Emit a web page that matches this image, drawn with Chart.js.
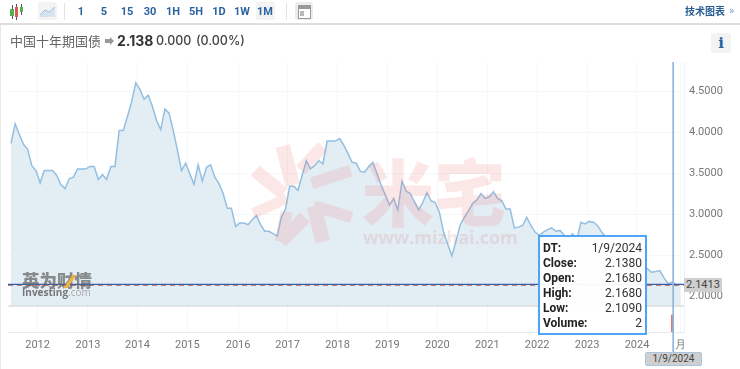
<!DOCTYPE html>
<html>
<head>
<meta charset="utf-8">
<script src="https://cdn.jsdelivr.net/npm/chart.js@4"></script>
<style>
html, body { margin: 0; padding: 0; background: #fff; }
body { width: 740px; height: 369px; overflow: hidden; position: relative; font-family: Roboto, "Noto Sans CJK SC", sans-serif; }
div, span, svg { position: absolute; }
canvas { position: absolute; left: 0; top: 0; }
.btn { top: 4px; width: 22px; text-align: center; font: 700 11px/15px Roboto, sans-serif; color: #2b639f; }
.sep { top: 3px; width: 1px; height: 17px; background: #e3e3e3; }
.box { background: #f3f3f3; border-radius: 2px; }
.tip-row { left: 3px; width: 99px; height: 15px; font: 12px/15px Roboto, sans-serif; color: #333; }
.tip-row b { position: absolute; left: 0; color: #222; font-weight: 700; }
.tip-row i { position: absolute; right: 0; font-style: normal; }
#overlay { left: 0; top: 0; width: 740px; height: 369px; pointer-events: none; }
</style>
</head>
<body>
<canvas id="bondChart" width="740" height="369"></canvas>

<div id="overlay">
  <!-- watermark -->
  <svg style="left:240px;top:130px" width="130" height="130" viewBox="0 0 390 390">
    <g fill="none" stroke="#ee7d7d" opacity="0.18">
      <polyline points="128,48 158,165" stroke-width="44"/>
      <polyline points="45,122 130,190" stroke-width="40"/>
      <polyline points="40,250 140,205" stroke-width="32"/>
      <polyline points="122,335 195,262" stroke-width="42"/>
      <polyline points="140,245 122,335" stroke-width="36"/>
      <polyline points="248,335 222,228" stroke-width="44"/>
      <polyline points="222,228 335,262" stroke-width="34"/>
      <polyline points="215,160 332,122" stroke-width="36"/>
      <polyline points="182,120 248,50" stroke-width="38"/>
    </g>
  </svg>
  <span style="left:362px;top:141px;font:900 72px/96px 'Noto Sans CJK SC';color:rgba(238,120,120,.18);white-space:nowrap">米宅</span>
  <span style="left:363px;top:225px;font:700 18px/24px 'Open Sans',sans-serif;color:rgba(205,120,120,.18);white-space:nowrap">www.mizhai.com</span>

  <!-- investing logo -->
  <span style="left:22px;top:270px;font:900 17.5px/20px 'Noto Sans CJK SC';color:rgba(95,95,95,.7);white-space:nowrap">英为财情</span>
  <div style="left:68px;top:275px;width:4px;height:13px;background:#f0b040;transform:skewX(-35deg)"></div>
  <span style="left:22px;top:286px;font:700 10px/12px 'Open Sans',sans-serif;color:#777;white-space:nowrap">Investing<span style="position:static;font-weight:400;color:#aaa">.com</span></span>

  <!-- mask for the cut off axis label -->
  <div style="left:684px;top:335px;width:10px;height:16px;background:#fff"></div>

  <!-- price and date flags -->
  <div style="left:684px;top:278px;width:38px;height:14px;background:#cfcfcf;font:11px/14px Roboto,sans-serif;color:#444;text-align:center">2.1413</div>
  <div style="left:645px;top:352px;width:55px;height:12px;background:#cfcfcf;border:1px solid #a9c4de;border-radius:2px;font:10px/12px Roboto,sans-serif;color:#444;text-align:center">1/9/2024</div>

  <!-- tooltip -->
  <div id="tip" style="left:538px;top:235px;width:105px;height:96px;border:2px solid #4ea5f7;background:rgba(255,255,255,.95)"></div>
</div>

<!-- toolbar -->
<div style="left:0;top:23px;width:740px;height:2px;background:#dedede"></div>
<div style="left:0;top:25px;width:1px;height:344px;background:#e8e8e8"></div>
<div style="left:12px;top:5px;width:1px;height:14px;background:#555"></div>
<div style="left:10px;top:9px;width:4px;height:7px;background:#55b055"></div>
<div style="left:16px;top:4px;width:1px;height:16px;background:#555"></div>
<div style="left:15px;top:7px;width:3px;height:10px;background:#dd5a50"></div>
<div style="left:21px;top:4px;width:1px;height:11px;background:#555"></div>
<div style="left:20px;top:7px;width:3px;height:5px;background:#55b055"></div>
<div class="box" style="left:38px;top:2px;width:19px;height:18px"></div>
<svg style="left:40px;top:6px" width="16" height="12" viewBox="0 0 16 12">
  <polygon points="0,9 5,4 9,6 15,1 15,11 0,11" fill="#d5e4f2"/>
  <polyline points="0,9 5,4 9,6 15,1" fill="none" stroke="#9fc2e2" stroke-width="1"/>
</svg>
<div class="sep" style="left:64px"></div>
<div class="box" style="left:256px;top:2px;width:19px;height:18px"></div>
<div id="buttons"></div>
<div class="sep" style="left:286px"></div>
<div class="box" style="left:295px;top:2px;width:18px;height:18px;background:#ececec"></div>
<div style="left:298px;top:5px;width:11px;height:12px;border:1px solid #999;background:#fff"></div>
<div style="left:299px;top:6px;width:11px;height:3px;background:#999"></div>
<div style="left:300px;top:11px;width:4px;height:5px;background:#bbb"></div>
<span style="left:685px;top:4px;font:700 10px/14px 'Noto Sans CJK SC';color:#2b5f94;white-space:nowrap">技术图表</span>
<span style="left:729px;top:4px;font:11px/14px Roboto,sans-serif;color:#7fa6cf">»</span>

<!-- title -->
<span style="left:10px;top:31px;font:13px/19px 'Noto Sans CJK SC';color:#666;white-space:nowrap">中国十年期国债</span>
<svg style="left:105px;top:37px" width="9" height="8" viewBox="0 0 9 8"><polygon points="0,2 5,2 5,0 9,4 5,8 5,6 0,6" fill="#999"/></svg>
<span style="left:117px;top:31px;font:700 14px/19px Inter,sans-serif;color:#333;white-space:nowrap">2.138</span>
<span style="left:156px;top:31px;font:500 12.5px/19px Inter,sans-serif;color:#444;white-space:nowrap">0.000</span>
<span style="left:196px;top:31px;font:500 12.5px/19px Inter,sans-serif;color:#444;white-space:nowrap">(0.00%)</span>
<div class="box" style="left:711px;top:33px;width:20px;height:20px;font:700 15px/20px 'DejaVu Serif',serif;color:#2b639f;text-align:center">i</div>

<script>
// monthly closes, Jul 2011 to Sep 2024
const closes = [
  3.86, 4.10, 3.97, 3.85, 3.79, 3.59, 3.53, 3.38, 3.53, 3.53, 3.53, 3.47,
  3.36, 3.31, 3.43, 3.45, 3.55, 3.55, 3.55, 3.58, 3.58, 3.42, 3.48, 3.42,
  3.58, 3.58, 4.02, 4.02, 4.19, 4.37, 4.60, 4.52, 4.40, 4.45, 4.31, 4.14,
  4.03, 4.28, 4.23, 4.02, 3.78, 3.53, 3.62, 3.49, 3.36, 3.60, 3.40, 3.57,
  3.60, 3.45, 3.37, 3.25, 3.07, 3.07, 2.85, 2.89, 2.89, 2.87, 2.93, 2.98,
  2.87, 2.79, 2.79, 2.76, 2.73, 2.96, 3.06, 3.34, 3.34, 3.29, 3.47, 3.65,
  3.55, 3.59, 3.65, 3.61, 3.89, 3.89, 3.89, 3.92, 3.84, 3.74, 3.63, 3.62,
  3.52, 3.51, 3.58, 3.63, 3.49, 3.35, 3.23, 3.11, 3.19, 3.05, 3.40, 3.28,
  3.25, 3.15, 3.05, 3.14, 3.26, 3.16, 3.14, 3.02, 2.78, 2.63, 2.49, 2.67,
  2.87, 2.96, 3.04, 3.13, 3.17, 3.25, 3.19, 3.21, 3.27, 3.19, 3.16, 3.06,
  3.06, 2.83, 2.84, 2.86, 2.96, 2.86, 2.78, 2.74, 2.78, 2.81, 2.83, 2.79,
  2.80, 2.74, 2.70, 2.76, 2.67, 2.90, 2.88, 2.91, 2.90, 2.86, 2.78, 2.72,
  2.68, 2.64, 2.62, 2.64, 2.58, 2.55, 2.50, 2.45, 2.38, 2.33, 2.29, 2.30,
  2.31, 2.22, 2.15, 2.17, 2.14, 2.14
];
const volumeMonths = [159];
const volumes = [2];

const yearLabels = ['2012', '2013', '2014', '2015', '2016', '2017', '2018', '2019', '2020', '2021', '2022', '2023', '2024', '月'];
const yearTickMonths = [6.4, 18.5, 30.4, 42.4, 54.6, 66.5, 78.5, 90.5, 102.5, 114.5, 126.5, 138.5, 150.5, 161];
const priceTicks = [2, 2.5, 3, 3.5, 4, 4.5];
const lastPrice = 2.1413;
const dashedPrice = 2.13;
const cursorMonth = 159.2;

const intervals = ['1', '5', '15', '30', '1H', '5H', '1D', '1W', '1M'];
const intervalLefts = [70, 93, 116, 139, 162, 185, 208, 231, 254];
const tipLabels = ['DT:', 'Close:', 'Open:', 'High:', 'Low:', 'Volume:'];
const tipValues = ['1/9/2024', '2.1380', '2.1680', '2.1680', '2.1090', '2'];

// toolbar and tooltip text
intervals.forEach((t, i) => {
    const b = document.createElement('div');
    b.className = 'btn';
    b.style.left = intervalLefts[i] + 'px';
    b.textContent = t;
    document.getElementById('buttons').appendChild(b);
});
tipLabels.forEach((t, i) => {
    const r = document.createElement('div');
    r.className = 'tip-row';
    r.style.top = (3.5 + i * 15) + 'px';
    r.innerHTML = '<b>' + t + '</b><i>' + tipValues[i] + '</i>';
    document.getElementById('tip').appendChild(r);
});

const X_MIN = -0.72, X_MAX = 161.8;
const PANEL_FLOOR = 1.878; // price panel stops here, volume panel below

const span = (y) => [{ x: X_MIN, y: y }, { x: X_MAX, y: y }];

// crosshair runs past the plot down to the date flag
const crosshair = {
    id: 'crosshair',
    afterDatasetsDraw(chart) {
        const c = chart.ctx;
        const px = chart.scales.x.getPixelForValue(cursorMonth);
        c.save();
        c.strokeStyle = '#8fb8dc';
        c.lineWidth = 1.7;
        c.beginPath();
        c.moveTo(px, chart.chartArea.top);
        c.lineTo(px, 352);
        c.stroke();
        c.restore();
    }
};

new Chart(document.getElementById('bondChart').getContext('2d'), {
    data: {
        datasets: [
            {
                type: 'line',
                data: closes.map((v, i) => ({ x: i, y: v })),
                borderColor: '#93bfe2',
                borderWidth: 1.5,
                backgroundColor: '#e3edf4',
                fill: { value: PANEL_FLOOR },
                pointRadius: 0,
                tension: 0,
                order: 3
            },
            {
                type: 'line',
                data: span(PANEL_FLOOR),
                borderColor: '#dcdcdc',
                borderWidth: 1.5,
                pointRadius: 0,
                order: 2
            },
            {
                type: 'line',
                data: span(lastPrice),
                borderColor: '#3a5fa8',
                borderWidth: 1.3,
                pointRadius: 0,
                order: 0
            },
            {
                type: 'line',
                data: span(dashedPrice),
                borderColor: '#c0625f',
                borderWidth: 1,
                borderDash: [5, 4],
                pointRadius: 0,
                order: 1
            },
            {
                type: 'bar',
                yAxisID: 'yVol',
                data: volumeMonths.map((m, i) => ({ x: m, y: volumes[i] })),
                backgroundColor: '#d9777a',
                barThickness: 2,
                order: 4
            }
        ]
    },
    options: {
        responsive: false,
        animation: false,
        events: [],
        layout: { padding: { left: 8, top: 62, right: 0, bottom: 0 } },
        plugins: { legend: { display: false }, tooltip: { enabled: false } },
        scales: {
            x: {
                type: 'linear',
                offset: false,
                min: X_MIN,
                max: X_MAX,
                afterBuildTicks: (s) => { s.ticks = yearTickMonths.map(v => ({ value: v })); },
                afterFit: (s) => { s.height = 37; },
                grid: { color: '#f5f7fa', drawTicks: false, offset: false },
                border: { color: '#e6ebf3' },
                ticks: {
                    autoSkip: false,
                    maxRotation: 0,
                    padding: 7,
                    color: '#777',
                    font: { family: 'Roboto', size: 11 },
                    callback: (v, i) => yearLabels[i]
                }
            },
            y: {
                position: 'right',
                min: 1.561,
                max: 4.854,
                afterBuildTicks: (s) => { s.ticks = priceTicks.map(v => ({ value: v })); },
                afterFit: (s) => { s.width = 56; },
                grid: { color: '#f5f7fa', drawTicks: false },
                border: { color: '#eef1f6' },
                ticks: {
                    padding: 5,
                    color: '#777',
                    font: { family: 'Roboto', size: 11 },
                    callback: (v) => v.toFixed(4)
                }
            },
            yVol: {
                display: false,
                min: 0,
                max: 31.8
            }
        }
    },
    plugins: [crosshair]
});
</script>
</body>
</html>
